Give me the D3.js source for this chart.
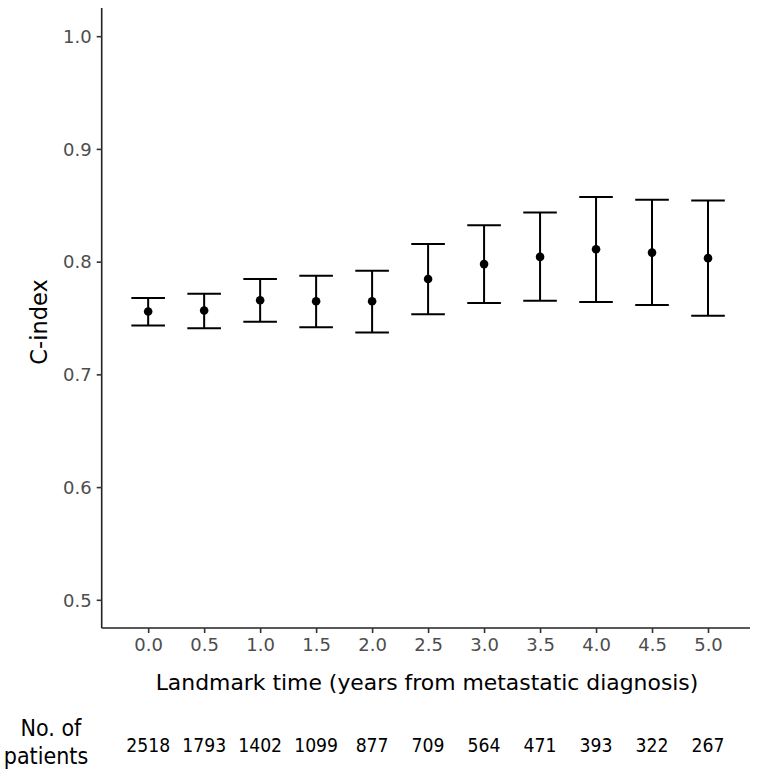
<!DOCTYPE html>
<html><head><meta charset="utf-8">
<script src="https://cdn.jsdelivr.net/npm/d3@7"></script>
<style>body{margin:0;background:#fff}svg{display:block}</style>
</head><body>
<svg id="c" width="760" height="776"></svg>
<script>
const landmark = [0.0,0.5,1.0,1.5,2.0,2.5,3.0,3.5,4.0,4.5,5.0];
const cindex = [0.7557,0.7566,0.7657,0.7648,0.7648,0.7846,0.7978,0.8042,0.8110,0.8080,0.8031];
const lower  = [0.7434,0.7410,0.7466,0.7419,0.7372,0.7534,0.7634,0.7654,0.7643,0.7616,0.7519];
const upper  = [0.7678,0.7716,0.7846,0.7875,0.7919,0.8157,0.8322,0.8436,0.8574,0.8548,0.8542];
const nPatients = ["2518","1793","1402","1099","877","709","564","471","393","322","267"];
const yTicks = [0.5,0.6,0.7,0.8,0.9,1.0];

const svg = d3.select("#c");
const x = d3.scaleLinear().domain([-0.415,5.375]).range([101.7,750]);
const y = d3.scaleLinear().domain([0.475,1.025]).range([628,8]);
const font = "'DejaVu Sans', sans-serif";

const yAxis = svg.append("g").attr("transform","translate(101.7,0)")
  .call(d3.axisLeft(y).tickValues(yTicks).tickFormat(d3.format(".1f")).tickSize(5).tickPadding(5));
const xAxis = svg.append("g").attr("transform","translate(0,628)")
  .call(d3.axisBottom(x).tickValues(landmark).tickFormat(d3.format(".1f")).tickSize(5).tickPadding(5));
[yAxis,xAxis].forEach(a=>{
  a.select(".domain").attr("stroke","#222").attr("stroke-width",1.6);
  a.selectAll(".tick line").attr("stroke","#333").attr("stroke-width",1.6);
  a.selectAll(".tick text").attr("fill","#4d4d4d").style("font-family",font).style("font-size","18px");
});
yAxis.selectAll(".tick text").attr("dy","0.35em");
yAxis.select(".domain").attr("d","M0,628V8");
xAxis.select(".domain").attr("d","M101.7,0H750");

const g = svg.append("g");
const cap = 16.8;
landmark.forEach((t,i)=>{
  const cx = x(t);
  g.append("line").attr("x1",cx).attr("x2",cx).attr("y1",y(lower[i])).attr("y2",y(upper[i])).attr("stroke","#000").attr("stroke-width",2);
  g.append("line").attr("x1",cx-cap).attr("x2",cx+cap).attr("y1",y(lower[i])).attr("y2",y(lower[i])).attr("stroke","#000").attr("stroke-width",2);
  g.append("line").attr("x1",cx-cap).attr("x2",cx+cap).attr("y1",y(upper[i])).attr("y2",y(upper[i])).attr("stroke","#000").attr("stroke-width",2);
  g.append("circle").attr("cx",cx).attr("cy",y(cindex[i])).attr("r",4.3).attr("fill","#000");
});

svg.append("text").attr("x",427).attr("y",690).attr("text-anchor","middle")
  .style("font-family",font).style("font-size","21.9px").attr("fill","#000")
  .text("Landmark time (years from metastatic diagnosis)");
svg.append("text").attr("transform","translate(47,322) rotate(-90)").attr("text-anchor","middle")
  .style("font-family",font).style("font-size","22.5px").attr("fill","#000").text("C-index");

const cfont = "'DejaVu Sans Condensed', 'DejaVu Sans', sans-serif";
svg.append("text").attr("x",51).attr("y",736).attr("text-anchor","middle")
  .style("font-family",cfont).style("font-stretch","condensed").style("font-size","23px").text("No. of");
svg.append("text").attr("x",46).attr("y",764).attr("text-anchor","middle")
  .style("font-family",cfont).style("font-stretch","condensed").style("font-size","23px").text("patients");
svg.append("g").selectAll("text").data(nPatients).join("text")
  .attr("x",(d,i)=>x(landmark[i])).attr("y",752).attr("text-anchor","middle")
  .style("font-family",cfont).style("font-stretch","condensed").style("font-size","19.2px").text(d=>d);
</script>
</body></html>
